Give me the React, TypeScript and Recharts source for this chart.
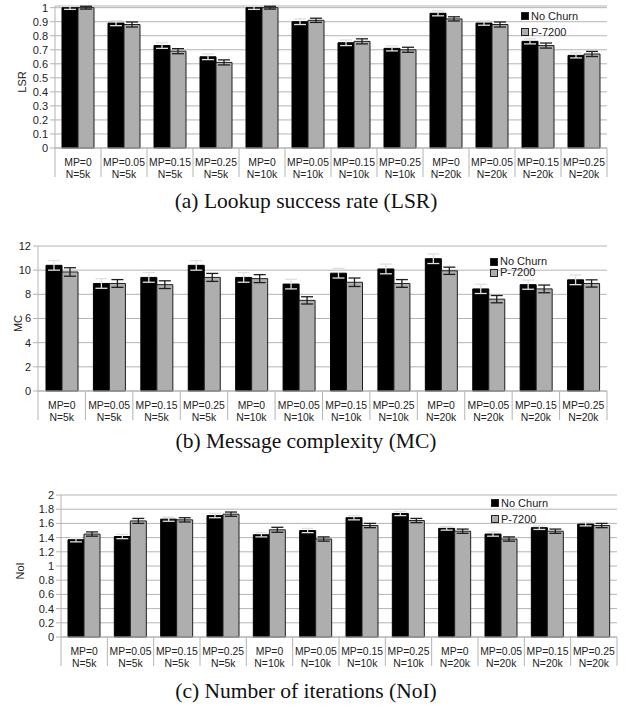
import React from 'react';
import {
  BarChart,
  Bar,
  XAxis,
  YAxis,
  CartesianGrid,
  ErrorBar,
} from 'recharts';

const categories = [
  'MP=0\nN=5k',
  'MP=0.05\nN=5k',
  'MP=0.15\nN=5k',
  'MP=0.25\nN=5k',
  'MP=0\nN=10k',
  'MP=0.05\nN=10k',
  'MP=0.15\nN=10k',
  'MP=0.25\nN=10k',
  'MP=0\nN=20k',
  'MP=0.05\nN=20k',
  'MP=0.15\nN=20k',
  'MP=0.25\nN=20k',
];
const seriesNames = ['No Churn', 'P-7200'];

// (a) lookup success rate
const lsrNoChurn = [1.0, 0.89, 0.73, 0.65, 1.0, 0.9, 0.75, 0.71, 0.96, 0.89, 0.76, 0.66];
const lsrP7200 = [1.0, 0.88, 0.69, 0.61, 1.0, 0.91, 0.76, 0.7, 0.92, 0.88, 0.73, 0.67];
const lsrNoChurnErr = [0.012, 0.018, 0.02, 0.02, 0.012, 0.02, 0.02, 0.018, 0.018, 0.015, 0.018, 0.018];
const lsrP7200Err = [0.01, 0.018, 0.018, 0.018, 0.01, 0.015, 0.018, 0.018, 0.015, 0.018, 0.018, 0.018];
const lsrTicks = [0, 0.1, 0.2, 0.3, 0.4, 0.5, 0.6, 0.7, 0.8, 0.9, 1];

// (b) message complexity
const mcNoChurn = [10.4, 8.9, 9.4, 10.4, 9.4, 8.85, 9.75, 10.1, 10.95, 8.45, 8.8, 9.2];
const mcP7200 = [9.85, 8.9, 8.8, 9.4, 9.3, 7.5, 9.0, 8.9, 9.95, 7.6, 8.45, 8.9];
const mcNoChurnErr = [0.4, 0.4, 0.4, 0.4, 0.4, 0.4, 0.4, 0.4, 0.4, 0.38, 0.38, 0.4];
const mcP7200Err = [0.35, 0.32, 0.32, 0.33, 0.33, 0.3, 0.35, 0.32, 0.3, 0.3, 0.32, 0.3];
const mcTicks = [0, 2, 4, 6, 8, 10, 12];

// (c) number of iterations
const noiNoChurn = [1.37, 1.415, 1.66, 1.71, 1.44, 1.5, 1.68, 1.74, 1.53, 1.45, 1.54, 1.59];
const noiP7200 = [1.45, 1.635, 1.65, 1.73, 1.51, 1.38, 1.57, 1.64, 1.49, 1.38, 1.49, 1.57];
const noiNoChurnErr = [0.03, 0.03, 0.03, 0.03, 0.03, 0.03, 0.03, 0.03, 0.025, 0.03, 0.025, 0.025];
const noiP7200Err = [0.03, 0.035, 0.03, 0.03, 0.035, 0.03, 0.03, 0.03, 0.03, 0.03, 0.03, 0.03];
const noiTicks = [0, 0.2, 0.4, 0.6, 0.8, 1, 1.2, 1.4, 1.6, 1.8, 2];

const GRID = '#b4b4b4';
const TEXT = '#222';
const SANS = '"Liberation Sans", Arial, sans-serif';

function buildRows(a: number[], b: number[], ae: number[], be: number[]) {
  return categories.map((c, i) => ({
    cat: c,
    noChurn: a[i],
    p7200: b[i],
    noChurnErr: ae[i],
    p7200Err: be[i],
  }));
}

function CategoryTick(props: any) {
  const { x, y, payload, index } = props;
  const half = payload.offset || 23;
  const [l1, l2] = String(payload.value).split('\n');
  return (
    <g>
      <line x1={x - half} x2={x - half} y1={y} y2={y + 29} stroke={GRID} />
      {index === categories.length - 1 && (
        <line x1={x + half} x2={x + half} y1={y} y2={y + 29} stroke={GRID} />
      )}
      <text x={x} y={y + 18} textAnchor="middle" fontSize={10.4} fill={TEXT} fontFamily={SANS}>
        {l1}
      </text>
      <text x={x} y={y + 30} textAnchor="middle" fontSize={10.4} fill={TEXT} fontFamily={SANS}>
        {l2}
      </text>
    </g>
  );
}

type PanelProps = {
  top: number;
  height: number;
  margin: { top: number; right: number; bottom: number; left: number };
  yWidth: number;
  ticks: number[];
  title: string;
  titleX: number;
  rows: any[];
};

function Panel({ top, height, margin, yWidth, ticks, title, titleX, rows }: PanelProps) {
  return (
    <div style={{ position: 'absolute', left: 0, top }}>
      <BarChart width={628} height={height} data={rows} margin={margin} barGap={0}>
        <CartesianGrid vertical={false} stroke={GRID} />
        <XAxis
          dataKey="cat"
          height={30}
          tickLine={false}
          tickSize={0}
          tickMargin={0}
          axisLine={{ stroke: GRID }}
          interval={0}
          tick={<CategoryTick />}
        />
        <YAxis
          width={yWidth}
          domain={[ticks[0], ticks[ticks.length - 1]]}
          ticks={ticks}
          interval={0}
          tickSize={5}
          tickMargin={2}
          axisLine={{ stroke: GRID }}
          tickLine={{ stroke: GRID }}
          tick={{ fill: TEXT, fontSize: 11, fontFamily: SANS }}
          label={(p: any) => {
            const vb = p.viewBox || {};
            const cx = (vb.x || 0) + titleX;
            const cy = (vb.y || 0) + (vb.height || 0) / 2 + 5;
            return (
              <text
                x={cx}
                y={cy}
                transform={`rotate(-90 ${cx} ${cy})`}
                textAnchor="middle"
                dominantBaseline="central"
                fontSize={11}
                fill={TEXT}
                fontFamily={SANS}
              >
                {title}
              </text>
            );
          }}
        />
        <YAxis
          yAxisId="frame"
          orientation="right"
          width={0}
          tick={false}
          tickLine={false}
          axisLine={{ stroke: GRID }}
        />
        <Bar dataKey="noChurn" name={seriesNames[0]} fill="#000" stroke="#000" barSize={16} isAnimationActive={false}>
          <ErrorBar dataKey="noChurnErr" width={6} stroke="#e0e0e0" strokeWidth={1.3} isAnimationActive={false} />
        </Bar>
        <Bar dataKey="p7200" name={seriesNames[1]} fill="#aeaeae" stroke="#1e1e1e" barSize={16} isAnimationActive={false}>
          <ErrorBar dataKey="p7200Err" width={6} stroke="#1e1e1e" strokeWidth={1.3} isAnimationActive={false} />
        </Bar>
      </BarChart>
    </div>
  );
}

function LegendBox({ left, top, rowGap }: { left: number; top: number; rowGap: number }) {
  const fills = ['#000', '#aeaeae'];
  return (
    <div style={{ position: 'absolute', left, top, fontFamily: SANS, fontSize: 11, color: TEXT }}>
      {seriesNames.map((n, i) => (
        <div key={n} style={{ display: 'flex', alignItems: 'center', height: rowGap, lineHeight: `${rowGap}px` }}>
          <span
            style={{
              display: 'inline-block',
              width: 6,
              height: 6,
              background: fills[i],
              border: '1px solid #222',
              marginRight: 2,
            }}
          />
          {n}
        </div>
      ))}
    </div>
  );
}

function Caption({ top, text }: { top: number; text: string }) {
  return (
    <div
      style={{
        position: 'absolute',
        left: 0,
        width: 612,
        top,
        textAlign: 'center',
        fontFamily: '"Liberation Serif", "Times New Roman", serif',
        fontSize: 21.5,
        color: '#111',
        lineHeight: '24px',
        whiteSpace: 'nowrap',
      }}
    >
      {text}
    </div>
  );
}

export default function App() {
  return (
    <div style={{ position: 'absolute', left: 0, top: 0, width: 628, height: 709, background: '#fff', overflow: 'hidden' }}>
      <Panel
        top={0}
        height={190}
        margin={{ top: 6, right: 21, bottom: 12, left: 0 }}
        yWidth={55}
        ticks={lsrTicks}
        title="LSR"
        titleX={22}
        rows={buildRows(lsrNoChurn, lsrP7200, lsrNoChurnErr, lsrP7200Err)}
      />
      <LegendBox left={521} top={8} rowGap={16} />
      <Caption top={189} text="(a) Lookup success rate (LSR)" />

      <Panel
        top={240}
        height={185}
        margin={{ top: 6, right: 21, bottom: 4, left: 0 }}
        yWidth={38}
        ticks={mcTicks}
        title="MC"
        titleX={18}
        rows={buildRows(mcNoChurn, mcP7200, mcNoChurnErr, mcP7200Err)}
      />
      <LegendBox left={490} top={256} rowGap={11} />
      <Caption top={429} text="(b) Message complexity (MC)" />

      <Panel
        top={488}
        height={185}
        margin={{ top: 7, right: 11, bottom: 6, left: 0 }}
        yWidth={61}
        ticks={noiTicks}
        title="NoI"
        titleX={20}
        rows={buildRows(noiNoChurn, noiP7200, noiNoChurnErr, noiP7200Err)}
      />
      <LegendBox left={491} top={495} rowGap={16} />
      <Caption top={679} text="(c) Number of iterations (NoI)" />
    </div>
  );
}
